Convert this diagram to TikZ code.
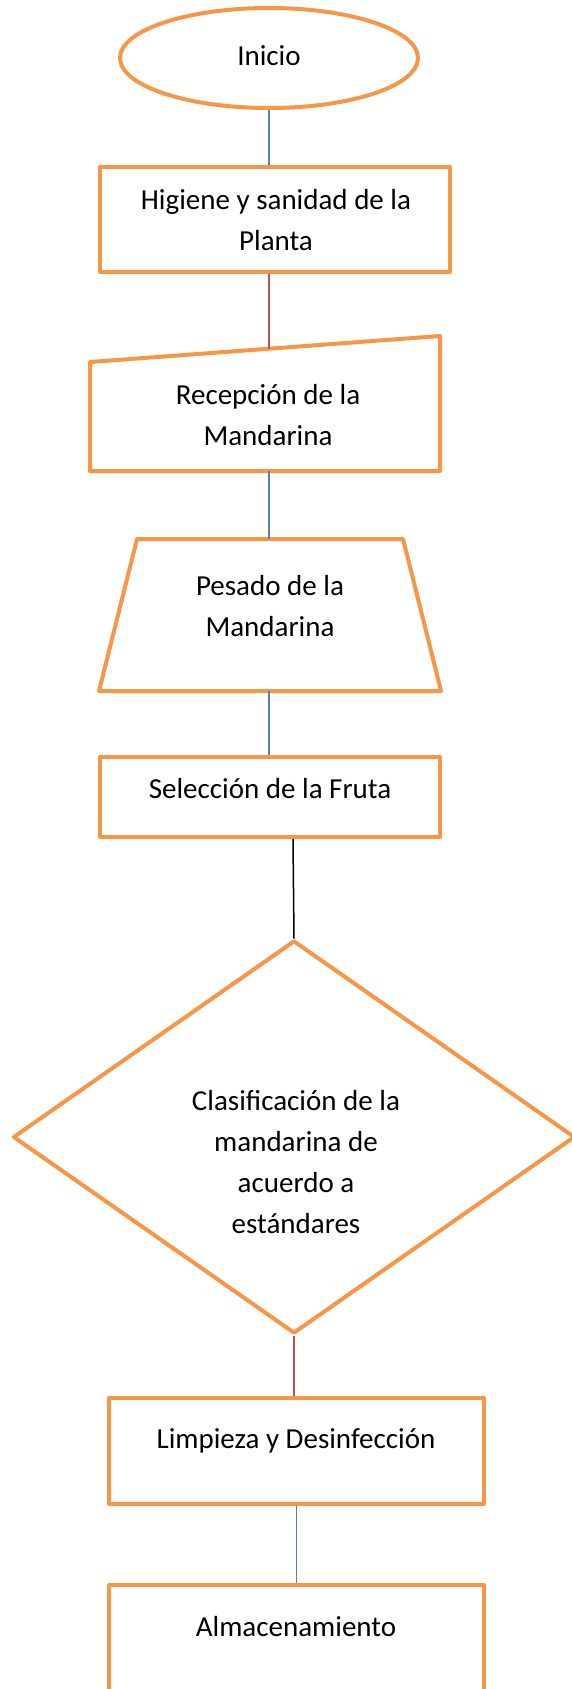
\documentclass[tikz,border=0pt]{standalone}
\usepackage{fontspec}
\setmainfont{Carlito}
\usetikzlibrary{shapes.geometric}

\definecolor{naranja}{HTML}{F79646}
\definecolor{azul}{HTML}{4F81BD}
\definecolor{rojo}{HTML}{C0504D}

\tikzset{
  contorno/.style={draw=naranja, line width=4pt, line join=round},
  forma/.style={contorno, inner sep=0pt},
  texto/.style={align=center, inner sep=0pt},
  conector/.style={line width=1.5pt},
}

\begin{document}
\begin{tikzpicture}[x=1pt,y=1pt,yscale=-1]
\useasboundingbox (0,0) rectangle (572,1689);
\clip (0,0) rectangle (572,1689);
\fontsize{29}{41}\selectfont

%Shape: Ellipse
\node [forma, ellipse, minimum width=298, minimum height=100] (inicio) at (269,58) {};
% Text Node
\node [texto] (inicio-t) at (269,56) {Inicio};

%Shape: Rectangle
\node [forma, minimum width=350, minimum height=105] (higiene) at (275,219.5) {};
% Text Node
\node [texto] (higiene-t) at (276,220) {Higiene y sanidad de la\\Planta};

%Shape: Manual Input
\draw [contorno] (90,362) -- (440,336) -- (440,471) -- (90,471) -- cycle;
\coordinate (recepcion-n) at (269,348.5);
\coordinate (recepcion-s) at (269,471);
% Text Node
\node [texto] (recepcion) at (268,415) {Recepción de la\\Mandarina};

%Shape: Trapezoid
\draw [contorno] (137,539) -- (403,539) -- (441,691) -- (99,691) -- cycle;
\coordinate (pesado-n) at (269,539);
\coordinate (pesado-s) at (269,691);
% Text Node
\node [texto] (pesado) at (270,606) {Pesado de la\\Mandarina};

%Shape: Rectangle
\node [forma, minimum width=340, minimum height=80] (seleccion) at (270,797) {};
% Text Node
\node [texto] (seleccion-t) at (270,789) {Selección de la Fruta};

%Shape: Diamond
\node [forma, diamond, minimum width=562, minimum height=393] (clasif) at (294,1137) {};
% Text Node
\node [texto] (clasif-t) at (296,1162) {Clasificación de la\\mandarina de\\acuerdo a\\estándares};

%Shape: Rectangle
\node [forma, minimum width=375, minimum height=106] (limpieza) at (296.5,1451) {};
% Text Node
\node [texto] (limpieza-t) at (296,1441) {Limpieza y Desinfección};

%Shape: Rectangle
\node [forma, minimum width=375, minimum height=170] (almacen) at (296.5,1670) {};
% Text Node
\node [texto] (almacen-t) at (296,1627) {Almacenamiento};

%Straight Lines
\draw [conector, azul] (inicio.south) -- (inicio.south |- higiene.north) ;
%Straight Lines
\draw [conector, rojo] (recepcion-n |- higiene.south) -- (recepcion-n) ;
%Straight Lines
\draw [conector, azul] (recepcion-s) -- (pesado-n) ;
%Straight Lines
\draw [conector, azul] (pesado-s) -- (pesado-s |- seleccion.north) ;
%Straight Lines
\draw [conector, black] ([xshift=23pt]seleccion.south) -- (clasif.north) ;
%Straight Lines
\draw [conector, rojo] (clasif.south) -- (clasif.south |- limpieza.north) ;
%Straight Lines
\draw [conector, azul] (limpieza.south) -- (almacen.north) ;

\end{tikzpicture}
\end{document}
